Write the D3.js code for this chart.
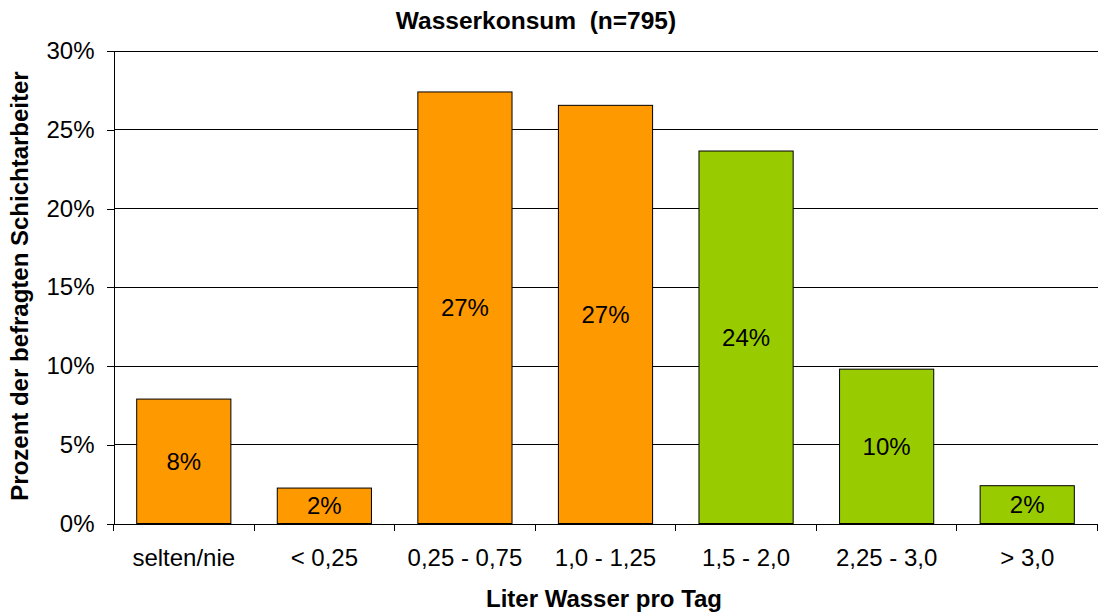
<!DOCTYPE html>
<html>
<head>
<meta charset="utf-8">
<script src="https://cdn.jsdelivr.net/npm/d3@7"></script>
<style>
  body { margin: 0; background: #fff; }
  text { font-family: "Liberation Sans", Arial, sans-serif; fill: #000; }
</style>
</head>
<body>
<div id="chart"></div>
<script>
const categories = ['selten/nie', '< 0,25', '0,25 - 0,75', '1,0 - 1,25', '1,5 - 2,0', '2,25 - 3,0', '> 3,0'];
const values = [7.9, 2.25, 27.4, 26.55, 23.65, 9.8, 2.4];
const labels = ['8%', '2%', '27%', '27%', '24%', '10%', '2%'];
const barColors = ['#FF9900', '#FF9900', '#FF9900', '#FF9900', '#99CC00', '#99CC00', '#99CC00'];
const yTicks = [0, 5, 10, 15, 20, 25, 30];

const width = 1098, height = 613;
const margin = { top: 51, right: 0.5, bottom: 89.5, left: 113.5 };
const innerW = width - margin.left - margin.right;
const innerH = height - margin.top - margin.bottom;
const fontFam = '"Liberation Sans", Arial, sans-serif';

const svg = d3.select('#chart').append('svg')
  .attr('width', width).attr('height', height);

const g = svg.append('g')
  .attr('transform', 'translate(' + margin.left + ',' + margin.top + ')');

const x = d3.scaleBand()
  .domain(categories)
  .range([0, innerW])
  .paddingInner(0.33)
  .paddingOuter(0.165);

const y = d3.scaleLinear()
  .domain([0, 30])
  .range([innerH, 0]);

// gridlines
g.append('g')
  .selectAll('line')
  .data(yTicks.slice(1))
  .enter().append('line')
  .attr('x1', 0).attr('x2', innerW)
  .attr('y1', d => y(d)).attr('y2', d => y(d))
  .attr('stroke', '#000')
  .attr('shape-rendering', 'crispEdges');

// y axis
g.append('g')
  .call(d3.axisLeft(y).tickValues(yTicks).tickFormat(d => d + '%').tickSize(7).tickPadding(12))
  .call(a => a.select('.domain').attr('stroke', '#000').attr('shape-rendering', 'crispEdges'))
  .call(a => a.selectAll('.tick line').attr('stroke', '#000').attr('shape-rendering', 'crispEdges'))
  .call(a => a.selectAll('.tick text').attr('font-size', '24px').attr('font-family', fontFam).attr('fill', '#000'));

// bars
g.selectAll('.bar')
  .data(categories)
  .enter().append('rect')
  .attr('x', d => x(d))
  .attr('width', x.bandwidth())
  .attr('y', (d, i) => y(values[i]))
  .attr('height', (d, i) => innerH - y(values[i]))
  .attr('fill', (d, i) => barColors[i])
  .attr('stroke', '#000')
  .attr('stroke-width', 1);

// value labels
g.selectAll('.lbl')
  .data(categories)
  .enter().append('text')
  .attr('x', d => x(d) + x.bandwidth() / 2)
  .attr('y', (d, i) => (y(values[i]) + innerH) / 2)
  .attr('dy', '0.35em')
  .attr('text-anchor', 'middle')
  .attr('font-size', '24px')
  .text((d, i) => labels[i]);

// x axis
const step = x.step();
g.append('g')
  .attr('transform', 'translate(0,' + innerH + ')')
  .call(d3.axisBottom(x).tickSize(0).tickPadding(25))
  .call(a => a.select('.domain').attr('stroke', '#000').attr('shape-rendering', 'crispEdges'))
  .call(a => a.selectAll('.tick text').attr('font-size', '24px').attr('font-family', fontFam).attr('fill', '#000'));

// category separator ticks
g.append('g')
  .selectAll('line')
  .data(d3.range(categories.length + 1))
  .enter().append('line')
  .attr('x1', i => i * step).attr('x2', i => i * step)
  .attr('y1', innerH).attr('y2', innerH + 7)
  .attr('stroke', '#000')
  .attr('shape-rendering', 'crispEdges');

// titles
svg.append('text')
  .attr('x', 536).attr('y', 29)
  .attr('text-anchor', 'middle')
  .attr('font-size', '24.5px').attr('font-weight', 'bold')
  .attr('xml:space', 'preserve')
  .text('Wasserkonsum  (n=795)');

svg.append('text')
  .attr('x', 604).attr('y', 607)
  .attr('text-anchor', 'middle')
  .attr('font-size', '24px').attr('font-weight', 'bold')
  .text('Liter Wasser pro Tag');

svg.append('text')
  .attr('transform', 'translate(28,286) rotate(-90)')
  .attr('text-anchor', 'middle')
  .attr('font-size', '24px').attr('font-weight', 'bold')
  .text('Prozent der befragten Schichtarbeiter');
</script>
</body>
</html>
